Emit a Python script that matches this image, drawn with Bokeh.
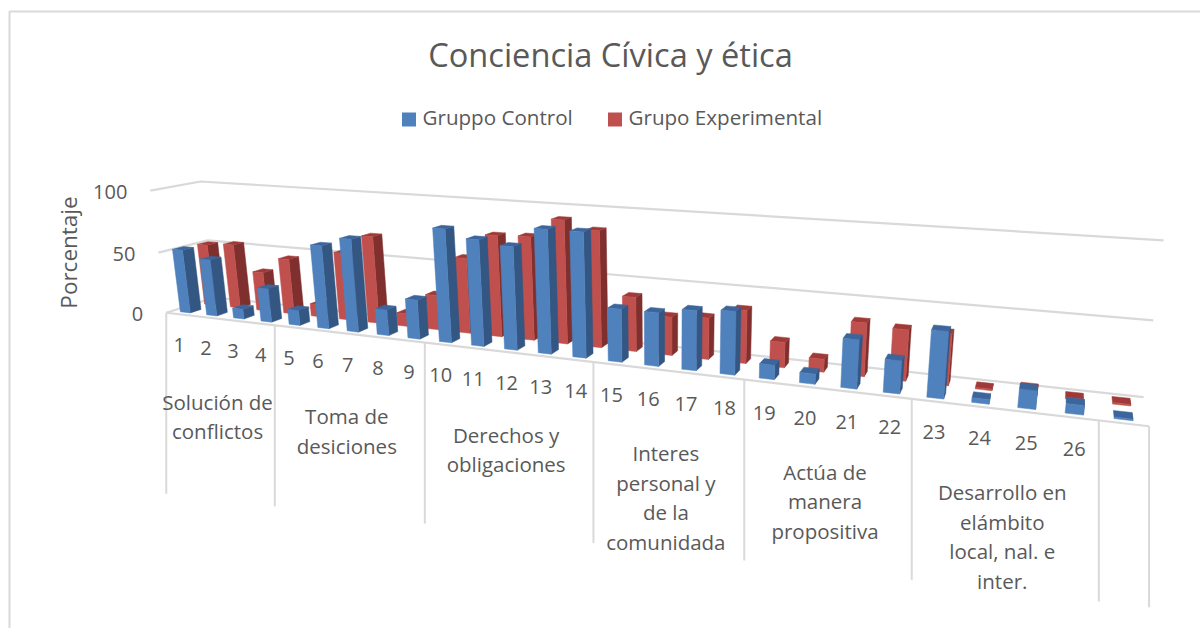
import numpy as np
from bokeh.plotting import figure
from bokeh.embed import file_html
from bokeh.resources import INLINE
from bokeh.core.properties import value

TITLE = "Conciencia Cívica y ética"
Y_TITLE = "Porcentaje"
SERIES = ["Gruppo Control", "Grupo Experimental"]
TICKS = ["0", "50", "100"]
TICK_VALUES = [0, 50, 100]
CATEGORIES = [str(n) for n in range(1, 27)] + [""]
GROUPS = ["Solución de\nconflictos", "Toma de\ndesiciones", "Derechos y\nobligaciones",
          "Interes\npersonal y\nde la\ncomunidada", "Actúa de\nmanera\npropositiva",
          "Desarrollo en\nelámbito\nlocal, nal. e\ninter."]
GROUP_SIZES = [4, 5, 5, 4, 4, 4, 1]
control = [52, 46, 8, 27, 12, 65, 72, 20, 30, 85, 79, 76, 90, 90, 38, 38, 42, 44, 10, 7, 33, 22, 44, 3, 12, 6, 1]
experimental = [51, 53, 32, 45, 10, 54, 69, 10, 27, 58, 77, 78, 92, 86, 40, 28, 30, 38, 18, 9, 37, 35, 35, 1, 4, 1, 1]

# Calibration of the 3D view: (category pos, depth, value/100) -> page pixel
VIEW = [
    (0, 0, 0, 166, 312), (4, 0, 0, 274, 325), (9, 0, 0, 424, 342), (14, 0, 0, 593, 362),
    (18, 0, 0, 744, 379), (22, 0, 0, 911, 398), (26, 0, 0, 1098, 420), (27, 0, 0, 1149, 426),
    (0, 1, 0, 214, 298), (27, 1, 0, 1143, 396),
    (0, 0, .5, 158, 252), (0, 1, .5, 207, 239), (27, 1, .5, 1153, 319),
    (0, 0, 1, 150, 190), (0, 1, 1, 200, 181), (27, 1, 1, 1163, 241),
]
A, b = [], []
for i, d, v, x, y in VIEW:
    A.append([i, d, v, 1, 0, 0, 0, 0, -x * i, -x * d, -x * v]); b.append(x)
    A.append([0, 0, 0, 0, i, d, v, 1, -y * i, -y * d, -y * v]); b.append(y)
H = np.linalg.lstsq(np.array(A, float), np.array(b, float), rcond=None)[0]


def proj(i, d, v):
    w = H[8] * i + H[9] * d + H[10] * v + 1
    return ((H[0] * i + H[1] * d + H[2] * v + H[3]) / w,
            (H[4] * i + H[5] * d + H[6] * v + H[7]) / w)


def poly(points):
    pts = [proj(*q) for q in points]
    return [q[0] for q in pts], [q[1] for q in pts]


p = figure(width=1200, height=628, x_range=(0, 1200), y_range=(628, 0),
           output_backend="svg", toolbar_location=None, min_border=0,
           x_axis_location=None, y_axis_location=None, background_fill_color="white",
           border_fill_color="white", outline_line_color=None)
p.grid.visible = False

GRID = "#D9D9D9"
TEXT = "#595959"
FONT = value("Open Sans")

# chart frame
p.line([9, 9, 1200], [628, 11, 11], line_color=GRID, line_width=2)

# walls and floor
for t in TICK_VALUES:
    f = t / 100
    xs, ys = poly([(0, 0, f), (0, 1, f), (27, 1, f)])
    p.line(xs, ys, line_color=GRID, line_width=2.2)
xs, ys = poly([(0, 0, 0), (27, 0, 0)])
p.line(xs, ys, line_color=GRID, line_width=2.2)

# group separators
edges = np.cumsum([0] + GROUP_SIZES)
for e in edges:
    x0, y0 = proj(e, 0, 0)
    p.line([x0, x0], [y0, y0 + 181], line_color=GRID, line_width=2)


def bars(vals, d0, d1, front, side, top):
    xs, ys, cs = [], [], []
    for i, val in enumerate(vals):
        a, c, f = i + .31, i + .69, val / 100
        for face, col in [([(c, d0, 0), (c, d1, 0), (c, d1, f), (c, d0, f)], side),
                          ([(a, d0, f), (c, d0, f), (c, d1, f), (a, d1, f)], top),
                          ([(a, d0, 0), (c, d0, 0), (c, d0, f), (a, d0, f)], front)]:
            x, y = poly(face)
            xs.append(x); ys.append(y); cs.append(col)
    p.patches(xs, ys, fill_color=cs, line_color=cs, line_width=.5)


bars(experimental, .62, .84, "#C0504D", "#7F2F2D", "#A03A38")
bars(control, .12, .34, "#4F81BD", "#345682", "#3C659B")

# category labels
cx, cy = [], []
for i in range(len(CATEGORIES)):
    x, y = proj(i + .5, 0, 0)
    cx.append(x); cy.append(y + 31)
p.text(cx, cy, text=CATEGORIES, text_font=FONT, text_font_size="20px", text_color=TEXT,
       text_align="center", text_baseline="middle")

# group labels
gx, gy, gt = [], [], []
for g, label in enumerate(GROUPS):
    xa, ya = proj(edges[g], 0, 0)
    xb, yb = proj(edges[g + 1], 0, 0)
    for k, line in enumerate(label.split("\n")):
        gx.append((xa + xb) / 2 - 3); gy.append((ya + yb) / 2 + 82.5 + 29.5 * k); gt.append(line)
p.text(gx, gy, text=gt, text_font=FONT, text_font_size="20.5px", text_color=TEXT,
       text_align="center", text_baseline="middle")

# value axis labels
tx, ty = [], []
for t in TICK_VALUES:
    x, y = proj(0, 0, t / 100)
    tx.append(x - 23); ty.append(y + 1.5)
p.text(tx, ty, text=TICKS, text_font=FONT, text_font_size="20px", text_color=TEXT,
       text_align="right", text_baseline="middle")
p.text([68], [252], text=[Y_TITLE], text_font=FONT, text_font_size="22.5px", text_color=TEXT,
       text_align="center", text_baseline="middle", angle=np.pi / 2)

# title and legend
p.text([610], [54], text=[TITLE], text_font=FONT, text_font_size="32.6px", text_color=TEXT,
       text_align="center", text_baseline="middle")
p.scatter([408.5, 614.5], [119, 119], marker="square", size=14, fill_color=["#4F81BD", "#C0504D"], line_color=None)
p.text([422, 628], [116.5, 116.5], text=SERIES, text_font=FONT, text_font_size="20.6px", text_color=TEXT,
       text_align="left", text_baseline="middle")

open("out.html", "w").write(file_html(p, INLINE))
